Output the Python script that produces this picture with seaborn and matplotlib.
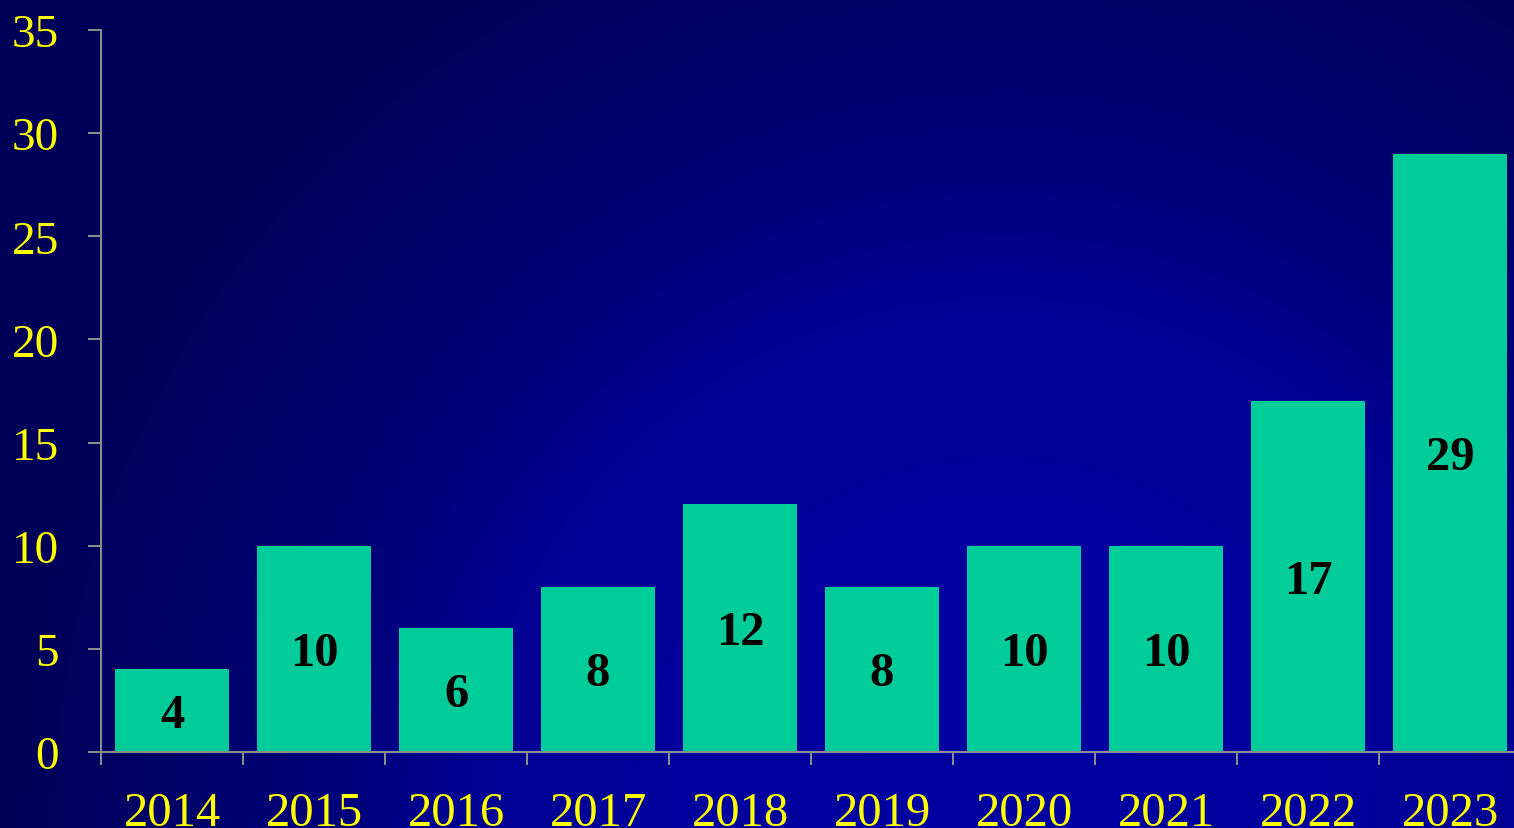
"""
Yearly counts bar chart on a blue gradient background.
"""
import matplotlib
matplotlib.use("Agg")
import matplotlib.pyplot as plt
import matplotlib.transforms as mtransforms
import seaborn as sns
import pandas as pd
import numpy as np

years = ["2014", "2015", "2016", "2017", "2018", "2019", "2020", "2021", "2022", "2023"]
counts = [4, 10, 6, 8, 12, 8, 10, 10, 17, 29]
y_ticks = [0, 5, 10, 15, 20, 25, 30, 35]

W, H, DPI = 1514, 829, 100
bar_color = "#00CC99"
text_yellow = "#FFFF00"
spine_gray = "#8C8C8C"

sns.set_style("white")
plt.rcParams["font.family"] = ["Liberation Serif", "DejaVu Serif"]

fig = plt.figure(figsize=(W / DPI, H / DPI), dpi=DPI)

# radial gradient background, brightest near the bottom centre-right
bg_ax = fig.add_axes([0, 0, 1, 1], zorder=-1)
yy, xx = np.mgrid[0:H, 0:W]
r = np.hypot(xx - 1000, yy - 829)
blue = np.interp(r, [0, 300, 550, 680, 830, 1000], [162, 158, 144, 120, 104, 88]) / 255
bg = np.zeros((H, W, 3))
bg[..., 2] = blue
bg_ax.imshow(bg, aspect="auto", interpolation="bilinear")
bg_ax.set_axis_off()

ax = fig.add_axes([101 / W, (H - 753) / H, (W - 101) / W, (753 - 31) / H])
ax.patch.set_alpha(0)

df = pd.DataFrame({"year": years, "count": counts})
sns.barplot(data=df, x="year", y="count", color=bar_color, saturation=1,
            width=0.8, linewidth=0, edgecolor="none", ax=ax)

# value labels centred in each bar, nudged down a few pixels
shift = mtransforms.offset_copy(ax.transData, fig=fig, x=0, y=-4, units="dots")
for i, v in enumerate(counts):
    ax.text(i, v / 2, str(v), transform=shift, ha="center", va="center",
            fontsize=35, fontweight="bold", color="black")

ax.set_xlim(-0.5, 9.45)
ax.set_ylim(0, 35)
ax.set_yticks(y_ticks)
ax.set_yticklabels([str(t) for t in y_ticks])
ax.set_xticks(np.arange(-0.5, 9, 1.0))
ax.set_xticklabels([])
ax.set_xticks(np.arange(len(years)), minor=True)
ax.set_xticklabels(years, minor=True)
ax.set_xlabel("")
ax.set_ylabel("")

ax.tick_params(axis="y", colors=spine_gray, labelcolor=text_yellow, labelsize=34,
               length=9.4, width=1.44, pad=21, direction="out", left=True)
ax.tick_params(axis="x", which="major", colors=spine_gray, length=9.4, width=1.44,
               direction="out", bottom=True)
ax.tick_params(axis="x", which="minor", length=0, labelcolor=text_yellow,
               labelsize=35, pad=28)

for side in ["top", "right"]:
    ax.spines[side].set_visible(False)
for side in ["left", "bottom"]:
    ax.spines[side].set_color(spine_gray)
    ax.spines[side].set_linewidth(1.44)

fig.savefig("out.png", dpi=DPI)
